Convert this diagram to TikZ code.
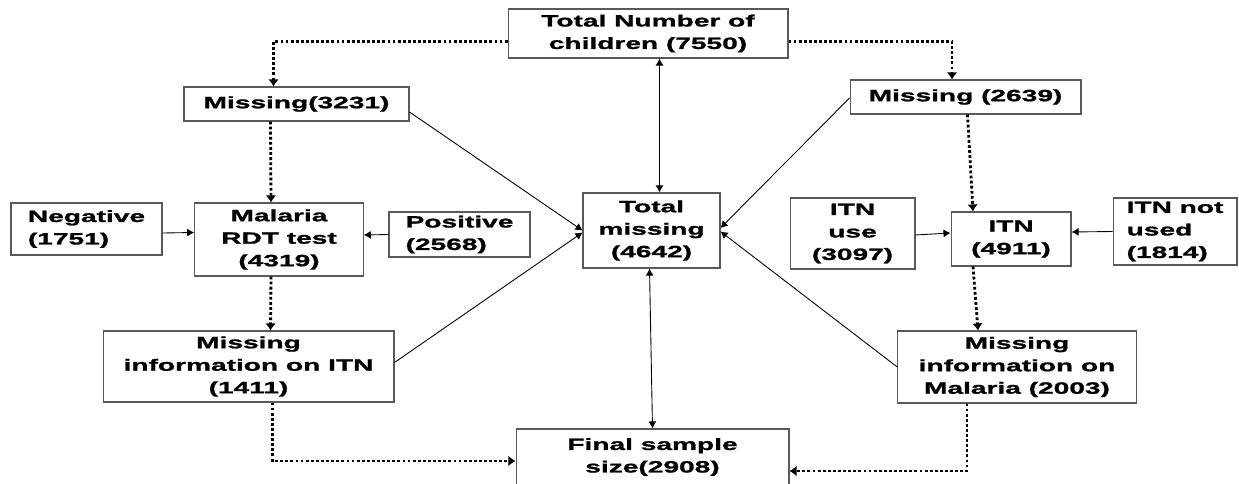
\documentclass[tikz,border=0pt]{standalone}
\usepackage{fontspec}
\setmainfont{Liberation Sans}[FakeStretch=1.72,BoldFeatures={FakeBold=1.3}]
\usetikzlibrary{calc,arrows.meta}

\begin{document}
\begin{tikzpicture}[x=0.02cm,y=-0.02cm,
    box/.style={draw=black!65,line width=0.6pt,inner sep=0pt,align=center,
      font=\fontsize{9.3}{12.8}\selectfont\bfseries},
    dotline/.style={line width=1.6pt,dash pattern=on 1.6pt off 1.3pt,-{Latex[length=4pt,width=6pt]}},
    thinline/.style={line width=0.5pt,-{Latex[length=4pt,width=4.5pt]}},
    biline/.style={line width=0.5pt,{Latex[length=4pt,width=4.5pt]}-{Latex[length=4pt,width=4.5pt]}}]
            \useasboundingbox (0,0) rectangle (1239,483);
            \node[box,minimum width=5.6cm,minimum height=0.98cm] (tot) at (648,33.5){Total Number of\\children (7550)};
            \node[box,minimum width=4.5cm,minimum height=0.68cm] (m1) at (296.5,104){Missing(3231)};
            \node[box,minimum width=4.62cm,minimum height=0.68cm] (m2) at (965.5,97){Missing (2639)};
            \node[box,align=left,minimum width=3.02cm,minimum height=1.04cm] (neg) at (86.5,229){Negative\\(1751)};
            \node[box,minimum width=3.37cm,minimum height=1.46cm] (rdt) at (279,239.5){Malaria\\RDT test\\(4319)};
            \node[box,align=left,minimum width=2.82cm,minimum height=0.9cm] (pos) at (459.5,234.5){Positive\\(2568)};
            \node[box,minimum width=2.74cm,minimum height=1.5cm] (totmiss) at (651.5,230.5){Total\\missing\\(4642)};
            \node[box,minimum width=2.5cm,minimum height=1.42cm] (use) at (852.5,233.5){ITN\\use\\(3097)};
            \node[box,minimum width=2.4cm,minimum height=1.08cm] (itn) at (1011,239){ITN\\(4911)};
            \node[box,align=left,minimum width=2.48cm,minimum height=1.34cm] (notused) at (1175,231.5){ITN not\\used\\(1814)};
            \node[box,minimum width=5.82cm,minimum height=1.42cm] (info1) at (248.5,366.5){Missing\\information on ITN\\(1411)};
            \node[box,minimum width=4.77cm,minimum height=1.44cm] (info2) at (1017,367){Missing\\information on\\Malaria (2003)};
            \node[box,minimum width=5.46cm,minimum height=1.12cm] (final) at (652.5,457){Final sample\\size(2908)};

            \draw[dotline] ($(tot.west)+(0,8)$) -| ($(m1.north)+(-23,0)$);
            \draw[dotline] ($(tot.east)+(0,8)$) -| ($(m2.north)+(-13.5,0)$);
            \draw[biline] ($(tot.south)+(11.5,0)$) -- ($(totmiss.north)+(8,0)$);
            \draw[dotline] ($(m1.south)+(-26,0)$) -- ($(rdt.north)+(-8,0)$);
            \draw[dotline] ($(m2.south)+(2,0)$) -- ($(itn.north)+(-38,0)$);
            \draw[thinline] ($(neg.east)+(0,4)$) -- ($(rdt.west)+(0,-7)$);
            \draw[thinline] (pos.west) -- ($(rdt.east)+(0,-4.5)$);
            \draw[thinline] ($(m1.east)+(0,8)$) -- (totmiss.west);
            \draw[thinline] ($(info1.east)+(0,-4)$) -- ($(totmiss.west)+(0,2)$);
            \draw[thinline] ($(m2.west)+(0,1)$) -- ($(totmiss.east)+(0,-2.5)$);
            \draw[thinline] (info2.west) -- ($(totmiss.east)+(0,1)$);
            \draw[dotline] ($(rdt.south)+(-8,0)$) -- ($(info1.north)+(22,0)$);
            \draw[dotline] ($(itn.south)+(-38,0)$) -- ($(info2.north)+(-39,0)$);
            \draw[thinline] ($(use.east)+(0,1.5)$) -- ($(itn.west)+(0,-6)$);
            \draw[thinline] (notused.west) -- ($(itn.east)+(0,-7)$);
            \draw[biline] ($(totmiss.south)+(-2,0)$) -- (final.north);
            \draw[dotline] ($(info1.south)+(24,0)$) |- ($(final.west)+(0,4)$);
            \draw[dotline] ($(info2.south)+(-50,0)$) |- ($(final.east)+(0,14)$);
          \end{tikzpicture}
\end{document}
